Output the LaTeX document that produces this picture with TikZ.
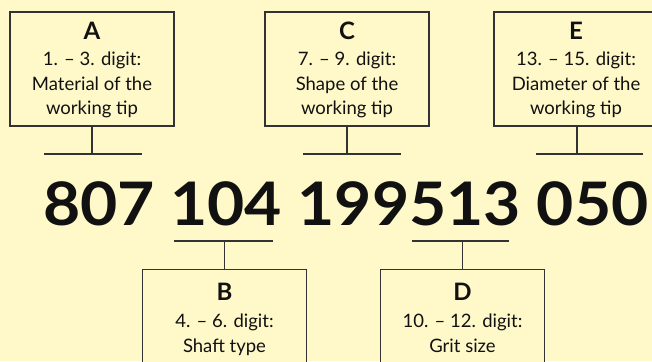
\documentclass[tikz,border=0pt]{standalone}
\usepackage{fontspec}
\setmainfont{Lato}
\newfontfamily\numfont{Lato}[FakeStretch=1.07]
\definecolor{bg}{HTML}{FFF8C8}
\definecolor{frame}{HTML}{333333}
\definecolor{ink}{HTML}{111111}
\begin{document}
\begin{tikzpicture}[x=1pt,y=-1pt,
  box/.style={draw=frame, line width=1.3pt, fill=bg, minimum width=164pt, inner sep=0pt},
  topbox/.style={box, minimum height=114pt},
  botbox/.style={box, minimum height=130pt},
  tag/.style={text=ink, font=\fontsize{24}{24}\selectfont\bfseries, inner sep=0pt},
  desc/.style={text=ink, font=\fontsize{18.5}{24.5}\selectfont, align=center, inner sep=0pt},
  wire/.style={draw=frame, line width=1.3pt}]
\fill[bg] (0,0) rectangle (652,361);
\useasboundingbox (0,0) rectangle (652,361);

% top boxes
\node[topbox] (A) at (92,69) {};
\node[topbox] (C) at (347,69) {};
\node[topbox] (E) at (576,69) {};
\node[tag] (At) at (92,31) {A};
\node[tag] (Ct) at (347,31) {C};
\node[tag] (Et) at (576,31) {E};
\node[desc, anchor=north] (Ad) at (92,52) {1. -- 3. digit:\\Material of the\\working tip};
\node[desc, anchor=north] (Cd) at (347,52) {7. -- 9. digit:\\Shape of the\\working tip};
\node[desc, anchor=north] (Ed) at (576,52) {13. -- 15. digit:\\Diameter of the\\working tip};

% bottom boxes
\node[botbox, anchor=north] (B) at (224.5,269) {};
\node[botbox, anchor=north] (D) at (462.5,269) {};
\node[tag] (Bt) at (224.5,292) {B};
\node[tag] (Dt) at (462.5,292) {D};
\node[desc, anchor=north] (Bd) at (224.5,314) {4. -- 6. digit:\\Shaft type};
\node[desc, anchor=north] (Dd) at (462.5,314) {10. -- 12. digit:\\Grit size};

% number
\node[anchor=base west, inner sep=0pt, text=ink, font=\numfont\fontsize{60}{60}\selectfont\bfseries] (num) at (43,225) {807 104 199513 050};

% brackets
\coordinate (Aj) at (92,154); \coordinate (Al) at (44,154); \coordinate (Ar) at (142,154);
\coordinate (Cj) at (347,154); \coordinate (Cl) at (303,154); \coordinate (Cr) at (401,154);
\coordinate (Ej) at (577,154); \coordinate (El) at (536,154); \coordinate (Er) at (643,154);
\coordinate (Bj) at (224.5,241); \coordinate (Bl) at (174,241); \coordinate (Br) at (273,241);
\coordinate (Dj) at (462.5,241); \coordinate (Dl) at (412,241); \coordinate (Dr) at (509,241);
\draw[wire] (A.south) -- (Aj); \draw[wire] (Al) -- (Ar);
\draw[wire] (C.south) -- (Cj); \draw[wire] (Cl) -- (Cr);
\draw[wire] (E.south -| Ej) -- (Ej); \draw[wire] (El) -- (Er);
\draw[wire] (B.north) -- (Bj); \draw[wire] (Bl) -- (Br);
\draw[wire] (D.north) -- (Dj); \draw[wire] (Dl) -- (Dr);
\end{tikzpicture}
\end{document}
